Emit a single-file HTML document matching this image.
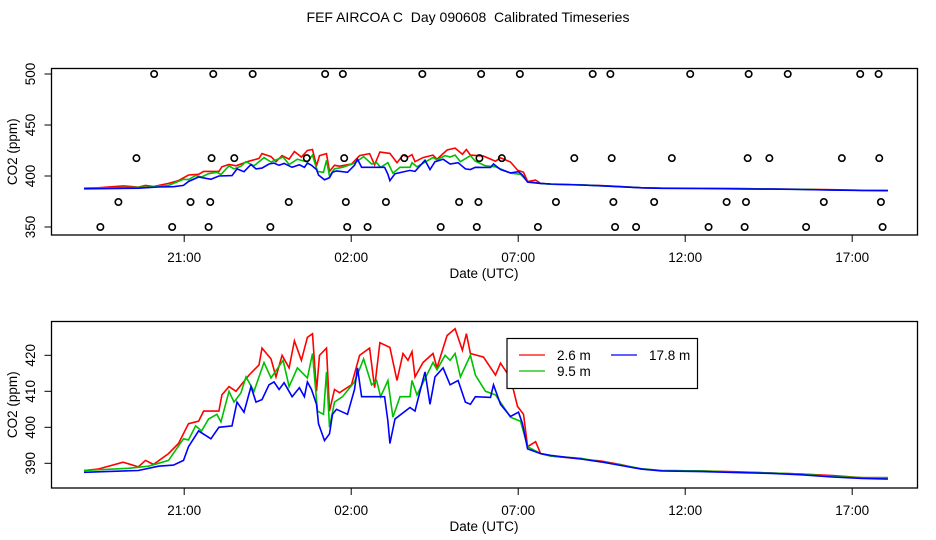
<!DOCTYPE html>
<html><head><meta charset="utf-8"><style>
body{margin:0;background:#fff;}
svg{display:block;font-family:"Liberation Sans",sans-serif;}
text{fill:#000;white-space:pre;}
</style></head><body>
<svg id="chart" width="936" height="540" viewBox="0 0 936 540">
<text x="468" y="22" text-anchor="middle" font-size="14" xml:space="preserve">FEF AIRCOA C  Day 090608  Calibrated Timeseries</text>
<g id="topPanel"></g>
<g id="botPanel"></g>
</svg>
<script>
// x-axis (hours since 18:00)
const tickLabels=["21:00","02:00","07:00","12:00","17:00"];
const tickHours=[3,8,13,18,23];
const topTicks=[350,400,450,500];
const botTicks=[390,400,410,420];

const redT=[0,0.42,1.17,1.63,1.84,2.08,2.53,2.83,3.13,3.43,3.58,4.04,4.13,4.34,4.55,4.94,5.24,5.33,5.6,5.75,5.93,6.14,6.3,6.51,6.69,6.84,6.96,7.05,7.26,7.35,7.5,7.65,8.01,8.25,8.55,8.7,8.86,9.16,9.37,9.55,9.7,9.82,9.91,10.15,10.45,10.57,10.75,10.87,11.11,11.33,11.45,11.57,11.96,12.32,12.47,12.77,12.98,13.16,13.28,13.52,13.67,13.98,14.88,15.48,16.08,16.69,17.29,18.49,19.7,20.6,21.5,22.4,23.3,24.07];
const redV=[388,388.4,390.3,389,390.8,389.7,392.7,395.5,401,401.7,404.5,404.5,409,411.3,410,414.5,417.3,422,419,414,420,416.5,424,418.6,425,426,410,420,422,404.5,410.5,409.6,411.8,420,422,411,423.5,422.2,413,420.5,418.6,421,414,418,420.5,416.5,422,425.5,427.4,421.4,426,420.5,419.5,414.5,417.8,413.7,405.8,403.6,394.6,396,392.7,392,391.2,390.6,389.6,388.4,388,387.9,387.6,387.3,387,386.6,386,386];
const greenT=[0,1.33,1.93,2.53,2.98,3.13,3.34,3.52,3.73,3.98,4.1,4.34,4.49,4.7,4.85,5.09,5.24,5.39,5.6,5.96,6.14,6.39,6.69,6.84,6.99,7.17,7.26,7.35,7.5,7.74,8.1,8.37,8.61,8.76,8.88,9.1,9.25,9.46,9.76,9.82,9.97,10.45,10.57,10.81,10.96,11.11,11.27,11.57,11.72,12.02,12.32,12.77,13.07,13.28,13.67,13.98,14.88,15.48,16.08,16.69,17.29,18.49,19.7,20.6,21.5,22.4,23.3,24.07];
const greenV=[388,388.6,389.2,390.8,396.8,396.5,400.4,399,402.3,403.6,401.5,410,407,409.6,414,410,414,418,413.7,418.6,411.3,416.5,413.7,420.5,404.5,403.6,415.4,400,407,408.5,412.6,419,411.8,413,408.5,413,402.8,408.5,408.5,413,409,418,416,420,418.6,420.5,414,420,414.5,410,409,402.8,401.7,394.6,392.7,392,391.4,390.4,389.5,388.5,388,387.9,387.5,387.3,387,386.3,386,386];
const blueT=[0,1.63,2.23,2.68,2.98,3.13,3.43,3.8,4.04,4.43,4.58,4.79,5.0,5.15,5.33,5.54,5.69,5.84,5.99,6.23,6.45,6.6,6.69,6.81,6.96,7.02,7.2,7.35,7.44,7.56,7.89,8.1,8.19,8.31,8.61,9.0,9.1,9.16,9.31,9.76,9.91,10.21,10.36,10.51,10.75,10.96,11.2,11.42,11.57,11.72,12.17,12.26,12.47,12.77,13.01,13.13,13.28,13.67,13.98,14.88,15.48,16.08,16.69,17.29,18.49,19.7,20.6,21.5,22.4,23.3,24.07];
const blueV=[387.5,388,389.2,389.5,390.8,394.6,399,396.8,400,400.4,407,404.2,411.3,407,407.7,411.8,412.6,410.5,412.4,408.5,411,408.5,412.6,410.5,406.4,401,396.3,398.2,403.6,405,403.6,410.5,416.5,408.5,408.5,408.5,401.7,395.5,402.3,405.5,404.5,415.4,406.4,414,416.5,411.8,413,407,406.4,408.5,408.3,411.8,406.4,403,404.2,401,394,392.7,392.2,391.2,390.4,389.4,388.4,387.9,387.7,387.4,387.2,386.8,386.2,385.8,385.6,385.5];

// flagged points in top panel
const flag500T=[2.10,3.87,5.05,7.22,7.75,10.13,11.89,13.05,15.23,15.76,18.15,19.90,21.07,23.24,23.79];
const flag417T=[1.57,3.82,4.50,6.67,7.79,9.59,11.84,12.51,14.68,15.80,17.60,19.87,20.52,22.69,23.81];
const flag374T=[1.03,3.19,3.78,6.13,7.84,9.04,11.23,11.81,14.13,15.85,17.07,19.24,19.82,22.15,23.86];
const flag350T=[0.49,2.64,3.73,5.58,7.88,8.49,10.68,11.76,13.59,15.90,16.53,18.70,19.78,21.62,23.91];
const flagLevels=[500,417.5,374.5,350];

const NS="http://www.w3.org/2000/svg";
function mk(tag,attrs,parent){const e=document.createElementNS(NS,tag);for(const k in attrs)e.setAttribute(k,attrs[k]);parent.appendChild(e);return e;}
const xS=h=>84+h*33.4;
const yTop=v=>227-(v-350)*1.02;
const yBot=v=>463.3-(v-390)*3.6;

function panel(g,y0,y1,ys,ticks){
  const box=mk('rect',{x:51.5,y:y0,width:866,height:y1-y0,fill:'none',stroke:'#000','stroke-width':1.3},g);
  
  
  tickHours.forEach((h,i)=>{
    const x=xS(h);
    const t=mk('line',{x1:x,x2:x,y1:y1,y2:y1+7,stroke:'#000'},g);
    
    
    const l=mk('text',{x:x,y:y1+27,'text-anchor':'middle','font-size':13.5},g);
    l.textContent=tickLabels[i];
    
    
  });
  ticks.forEach(v=>{
    const y=ys(v);
    const t=mk('line',{x1:44.5,x2:51.5,y1:y,y2:y,stroke:'#000'},g);
    
    
    const l=mk('text',{x:35,y:y,'text-anchor':'middle','font-size':13.5,transform:`rotate(-90 35 ${y})`},g);
    l.textContent=v;
    
    
  });
  const xt=mk('text',{x:484,y:y1+43,'text-anchor':'middle','font-size':13.5},g);
  xt.textContent='Date (UTC)';
  
  
  const yc=(y0+y1)/2;
  const yt=mk('text',{x:17,y:yc,'text-anchor':'middle','font-size':13.5,transform:`rotate(-90 17 ${yc})`},g);
  yt.textContent='CO2 (ppm)';
  
  
}
function series(g,T,V,ys,color,name){
  const d=T.map((t,i)=>(i?'L':'M')+xS(t).toFixed(1)+','+ys(V[i]).toFixed(1)).join('');
  const p=mk('path',{d:d,fill:'none',stroke:color,'stroke-width':1.6},g);
  
  
}
const topG=document.getElementById('topPanel'), botG=document.getElementById('botPanel');
panel(topG,68.5,235,yTop,topTicks);
panel(botG,321.5,488,yBot,botTicks);
[[redT,redV,'#f00','series-2-6m'],[greenT,greenV,'#00c000','series-9-5m'],[blueT,blueV,'#00f','series-17-8m']].forEach(s=>{
  series(topG,s[0],s[1],yTop,s[2],'top-'+s[3]);
  series(botG,s[0],s[1],yBot,s[2],'bottom-'+s[3]);
});
[flag500T,flag417T,flag374T,flag350T].forEach((arr,k)=>{
  arr.forEach(t=>{
    const c=mk('circle',{cx:xS(t),cy:yTop(flagLevels[k]),r:3.2,fill:'none',stroke:'#000','stroke-width':1.6},topG);
    
    
  });
});
// legend
const lg=mk('g',{},botG);


mk('rect',{x:507,y:338.5,width:190.5,height:50,fill:'#fff',stroke:'#000','stroke-width':1.2},lg);
const entries=[[519,355,'#f00','2.6 m','legend-entry-2-6m'],[519,371,'#00c000','9.5 m','legend-entry-9-5m'],[611,355,'#00f','17.8 m','legend-entry-17-8m']];
entries.forEach(e=>{
  const eg=mk('g',{},lg);
  
  
  mk('line',{x1:e[0],x2:e[0]+26,y1:e[1],y2:e[1],stroke:e[2],'stroke-width':1.3},eg);
  const t=mk('text',{x:e[0]+38,y:e[1]+5,'font-size':13.5},eg);
  t.textContent=e[3];
});
</script>
</body></html>
